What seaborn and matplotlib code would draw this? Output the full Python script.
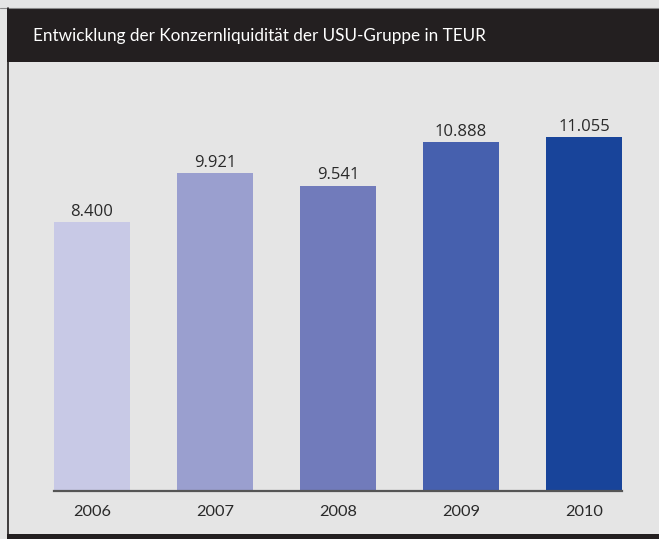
import matplotlib
matplotlib.use("Agg")
import matplotlib.pyplot as plt
import seaborn as sns
import pandas as pd
from matplotlib.patches import Rectangle
from matplotlib.lines import Line2D

years = ["2006", "2007", "2008", "2009", "2010"]
values = [8400, 9921, 9541, 10888, 11055]
colors = ["#c8c9e6", "#9a9fcf", "#717bbb", "#4660ae", "#18449a"]
title = "Entwicklung der Konzernliquidität der USU-Gruppe in TEUR"

W, H = 659, 539
BG = "#e5e5e5"
DARK = "#231f20"

sns.set_theme(style="white")
plt.rcParams["font.family"] = ["Lato", "DejaVu Sans"]

fig = plt.figure(figsize=(W / 100, H / 100), dpi=100, facecolor=BG)

# header band
fig.patches.append(Rectangle((7 / W, 1 - 62 / H), 1, 53 / H, transform=fig.transFigure,
                             facecolor=DARK, edgecolor="none", zorder=0))
fig.lines.append(Line2D([0, 1], [1 - 8 / H, 1 - 8 / H], transform=fig.transFigure,
                        color="#8a8a8a", lw=0.8))
# left border
fig.lines.append(Line2D([7.5 / W, 7.5 / W], [0, 1 - 8 / H], transform=fig.transFigure,
                        color=DARK, lw=1.2))
# bottom band
fig.patches.append(Rectangle((7 / W, 0), 1, 5 / H, transform=fig.transFigure,
                             facecolor=DARK, edgecolor="none", zorder=0))
fig.text(33 / W, 1 - 36 / H, title, color="white", fontsize=12.3, va="center", ha="left",
         family=["Lato", "DejaVu Sans"])

ax = fig.add_axes([8 / W, 48 / H, (W - 8) / W, 429 / H])
ax.set_facecolor(BG)
df = pd.DataFrame({"year": years, "value": values})
sns.barplot(data=df, x="year", y="value", hue="year", palette=colors, legend=False,
            width=0.62, saturation=1, ax=ax, zorder=2, edgecolor="none", linewidth=0)

ax.set_xlim(-0.683, 4.61)
ax.set_ylim(0, 13400)
for s in ["top", "right", "left"]:
    ax.spines[s].set_visible(False)
ax.spines["bottom"].set_color("#555555")
ax.spines["bottom"].set_linewidth(1.6)
ax.spines["bottom"].set_bounds(-0.31, 4.31)
ax.set_yticks([])
ax.set_xlabel("")
ax.set_ylabel("")
ax.tick_params(axis="x", length=0, pad=10, labelsize=11.8, labelcolor="#2a2a2a")

for cont in ax.containers:
    labels = [f"{v:,.0f}".replace(",", ".") for v in cont.datavalues]
    ax.bar_label(cont, labels=labels, padding=1.5, fontsize=12, color="#2a2a2a",
                 family=["Open Sans", "DejaVu Sans"])

fig.savefig("out.png", dpi=100, facecolor=BG)
